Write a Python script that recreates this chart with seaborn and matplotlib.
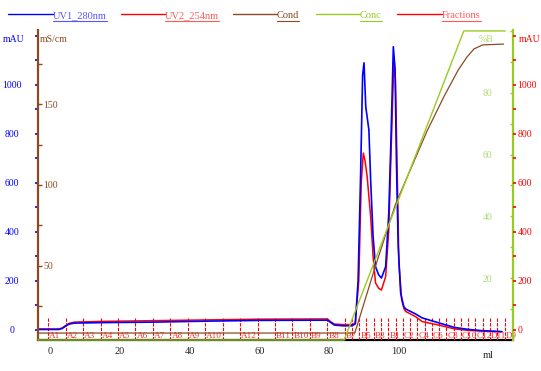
import matplotlib
matplotlib.use("Agg")
import matplotlib.pyplot as plt
import matplotlib.transforms as mtransforms
from matplotlib.lines import Line2D
import pandas as pd
import seaborn as sns

# UV 280 nm trace (ml, mAU)
uv1_ml = [-3.4, 2.5, 3.5, 4.5, 5.5, 7, 15, 30, 45, 60, 79.5, 80.5, 81.5, 84, 86.5,
          87.5, 88.3, 89.0, 89.6, 90.0, 90.5, 91.4, 91.9, 92.6, 93.3, 94.2, 95.0,
          96.2, 97.1, 97.8, 98.4, 98.9, 99.3, 99.8, 100.5, 101.4, 102.0, 104.8,
          106.7, 111.4, 116.0, 120.0, 124.0, 129.5]
uv1_mau = [2, 2, 6, 16, 24, 28, 30, 32, 36, 39, 40, 30, 20, 17, 17,
           25, 200, 620, 1040, 1090, 911, 816, 612, 381, 258, 225, 212,
           258, 477, 816, 1156, 1061, 680, 340, 150, 95, 85, 65,
           49, 29, 10, 2, -3, -7]

# UV 254 nm trace
uv2_ml = [-3.4, 2.5, 3.5, 4.5, 5.5, 7, 15, 30, 45, 60, 79.5, 80.5, 81.5, 84, 86.5,
          87.5, 88.5, 89.2, 89.8, 90.3, 90.9, 91.9, 92.6, 93.3, 94.2, 95.0, 96.2,
          97.1, 97.8, 98.6, 99.0, 99.5, 100.0, 100.8, 101.5, 102.0, 104.8, 106.7,
          111.4, 116.0, 120.0, 124.0, 129.5]
uv2_mau = [4, 4, 8, 18, 27, 32, 35, 38, 41, 44, 45, 33, 24, 22, 22,
           28, 200, 600, 722, 690, 626, 463, 300, 192, 170, 163, 218,
           408, 748, 1115, 1020, 653, 273, 122, 85, 75, 54, 34,
           20, 4, -2, -5, -7]

# conductivity (mS/cm)
cond_ml = [-3.4, 87.3, 88.0, 90.0, 93.0, 96.0, 99.0, 103.0, 108.0, 113.0, 117.0,
           119.5, 121.5, 124.0, 130.0]
cond_ms = [8.6, 8.6, 13, 27, 48, 68, 88, 108, 133, 155, 171, 179, 184, 186.5, 187]

# gradient concentration (%B)
conc_ml = [-3.4, 84.3, 118.6, 130.5]
conc_pct = [0, 0, 100, 100]

# fraction boundaries (ml)
frac_ml = [-0.5, 4.5, 9.5, 14.5, 19.5, 24.5, 29.5, 34.5, 39.5, 44.5, 49.5, 54.5,
           59.5, 64.5, 69.5, 74.5, 79.5, 84.5, 86.6, 88.7, 90.7, 92.8, 94.9, 97.0,
           99.1, 101.1, 103.2, 105.3, 107.4, 109.5, 111.5, 113.6, 115.7, 117.8,
           119.9, 121.9, 124.0, 126.1, 128.2, 130.3]
label_ml = [-0.5, 4.5, 9.5, 14.5, 19.5, 24.5, 29.5, 34.5, 39.5, 44.5, 54.5, 64.5,
            69.5, 74.5, 79.5, 84.5, 88.7, 92.8, 97.0, 101.1, 105.3, 109.5, 113.6,
            117.8, 121.9, 126.1, 130.3]
label_txt = ["A1", "A2", "A3", "A4", "A5", "A6", "A7", "A8", "A9", "A10", "A12", "B11",
             "B10", "B9", "B8", "B7", "B5", "B3", "B1", "C2", "C4", "C6", "C8",
             "C10", "C12", "D11", "D9"]

mau_ticks = [0, 100, 200, 300, 400, 500, 600, 700, 800, 900, 1000, 1100, 1200]
mau_labels = ["0", "", "200", "", "400", "", "600", "", "800", "", "1000", "", ""]
cond_ticks = [25, 50, 75, 100, 125, 150, 175]
cond_labels = ["", "50", "", "100", "", "150", ""]
conc_ticks = [10, 20, 30, 40, 50, 60, 70, 80, 90, 100]
conc_labels = ["", "20", "", "40", "", "60", "", "80", "", ""]
x_ticks = [0, 20, 40, 60, 80, 100, 120]
x_labels = ["0", "20", "40", "60", "80", "100", ""]

BLUE = "#0000ff"
RED = "#ff0000"
BROWN = "#8b4a22"
GREEN = "#99cc22"

sns.set_style("white")
plt.rcParams["font.family"] = ["Liberation Serif", "DejaVu Serif"]
plt.rcParams["font.size"] = 7

W, H = 541, 371
fig = plt.figure(figsize=(W / 100, H / 100), dpi=100)
rect = [38 / W, 31 / H, 475 / W, 310 / H]

ax = fig.add_axes(rect, zorder=1)
ax_cond = fig.add_axes(rect, sharex=ax, zorder=2)
ax_conc = fig.add_axes(rect, sharex=ax, zorder=3)
ax_r = fig.add_axes(rect, sharex=ax, zorder=4)
for a in (ax_cond, ax_conc, ax_r):
    a.patch.set_visible(False)
for a in (ax, ax_cond, ax_conc, ax_r):
    for s in a.spines.values():
        s.set_visible(False)

mau_lim = (-41, 1224)
ax.set_xlim(-3.44, 132.7)
ax.set_ylim(*mau_lim)
ax_r.set_ylim(*mau_lim)
ax_cond.set_ylim(4.3, 195.7)
ax_conc.set_ylim(0, 100.3)

# fractions
ax.vlines(frac_ml, -41, 53, colors=RED, linestyles=(0, (3, 1.2)), lw=0.8)
for m, t in zip(label_ml, label_txt):
    ax.text(m + 0.3, -34, t, color="#ff3030", fontsize=6.6, ha="left", va="baseline")

uv2 = pd.DataFrame({"ml": uv2_ml, "mAU": uv2_mau})
uv1 = pd.DataFrame({"ml": uv1_ml, "mAU": uv1_mau})
sns.lineplot(data=uv2, x="ml", y="mAU", ax=ax, color=RED, lw=1.1)
sns.lineplot(data=uv1, x="ml", y="mAU", ax=ax, color=BLUE, lw=1.2)

cond = pd.DataFrame({"ml": cond_ml, "ms": cond_ms})
sns.lineplot(data=cond, x="ml", y="ms", ax=ax_cond, color=BROWN, lw=0.9)
conc = pd.DataFrame({"ml": conc_ml, "pct": conc_pct})
sns.lineplot(data=conc, x="ml", y="pct", ax=ax_conc, color=GREEN, lw=1.0)
ax_conc.lines[-1].set_clip_on(False)

# bottom axis
ax.spines["bottom"].set_visible(True)
ax.spines["bottom"].set_color("black")
ax.spines["bottom"].set_linewidth(1.6)
ax.spines["bottom"].set_zorder(0)
ax.set_xticks(x_ticks)
ax.set_xticklabels(x_labels)
ax.tick_params(axis="x", direction="out", length=3, width=0.8, color="#555555",
               pad=2, labelsize=7.5)
ax.text(125.5, -0.035, "ml", transform=mtransforms.blended_transform_factory(ax.transData, ax.transAxes),
        ha="center", va="top", fontsize=7.5)

# left mAU (blue)
ax.set_yticks(mau_ticks)
ax.set_yticklabels(mau_labels)
ax.tick_params(axis="y", left=True, direction="out", length=2, width=1.2,
               color=BLUE, labelcolor=BLUE, pad=16.6, labelsize=7)
plt.setp(ax.get_yticklabels(), ha="center")

# conductivity (brown, left spine)
ax_cond.spines["left"].set_visible(True)
ax_cond.spines["left"].set_color(BROWN)
ax_cond.spines["left"].set_linewidth(1.6)
ax_cond.set_yticks(cond_ticks)
ax_cond.set_yticklabels(cond_labels)
ax_cond.tick_params(axis="y", left=True, direction="in", length=3, width=1,
                    color=BROWN, labelcolor=BROWN, pad=-3.6, labelsize=7)
plt.setp(ax_cond.get_yticklabels(), ha="left")
ax_cond.tick_params(axis="x", bottom=False, labelbottom=False)

# %B (green, right spine)
ax_conc.spines["right"].set_visible(True)
ax_conc.spines["right"].set_color(GREEN)
ax_conc.spines["right"].set_linewidth(1.6)
ax_conc.yaxis.tick_right()
ax_conc.set_yticks(conc_ticks)
ax_conc.set_yticklabels(conc_labels)
ax_conc.tick_params(axis="y", right=True, left=False, direction="in", length=2.5,
                    width=1, color=GREEN, labelcolor="#b2d877", pad=-15, labelsize=7)
plt.setp(ax_conc.get_yticklabels(), ha="right")
ax_conc.tick_params(axis="x", bottom=False, labelbottom=False)

# right mAU (red)
ax_r.yaxis.tick_right()
ax_r.set_yticks(mau_ticks)
ax_r.set_yticklabels(mau_labels)
ax_r.tick_params(axis="y", right=True, left=False, direction="out", length=2.5,
                 width=1.2, color=RED, labelcolor=RED, pad=0.6, labelsize=7)
ax_r.tick_params(axis="x", bottom=False, labelbottom=False)

for a in (ax, ax_cond, ax_conc, ax_r):
    a.set_xlabel("")
    a.set_ylabel("")

# axis unit titles
ty = 1 - 40 / H
fig.text(14 / W, ty, "mAU", color=BLUE, ha="center", va="center", fontsize=7)
fig.text(40 / W, ty, "mS/cm", color=BROWN, ha="left", va="center", fontsize=7)
fig.text(486 / W, ty, "%B", color="#b2d877", ha="center", va="center", fontsize=7)
fig.text(519 / W, ty, "mAU", color=RED, ha="left", va="center", fontsize=7)

# legend
legend = [
    ("UV1_280nm", BLUE, "#5555ff", 8, 53),
    ("UV2_254nm", RED, "#ff5a5a", 121, 165),
    ("Cond", BROWN, BROWN, 233, 277),
    ("Conc", GREEN, GREEN, 316, 360),
    ("Fractions", RED, "#ff5a5a", 397, 442),
]
ly = 1 - 14 / H
texts = []
for name, lc, tc, x0, x1 in legend:
    fig.add_artist(Line2D([x0 / W, x1 / W], [ly, ly], color=lc, lw=1.0))
    t = fig.text(x1 / W, 1 - 16 / H, name, color=tc, ha="left", va="center", fontsize=7.5)
    texts.append((t, tc))
fig.canvas.draw()
r = fig.canvas.get_renderer()
for t, tc in texts:
    bb = t.get_window_extent(r)
    fig.add_artist(Line2D([bb.x0 / W, bb.x1 / W], [1 - 20.5 / H, 1 - 20.5 / H],
                          color=tc, lw=0.8))

fig.savefig("out.png", dpi=100)
